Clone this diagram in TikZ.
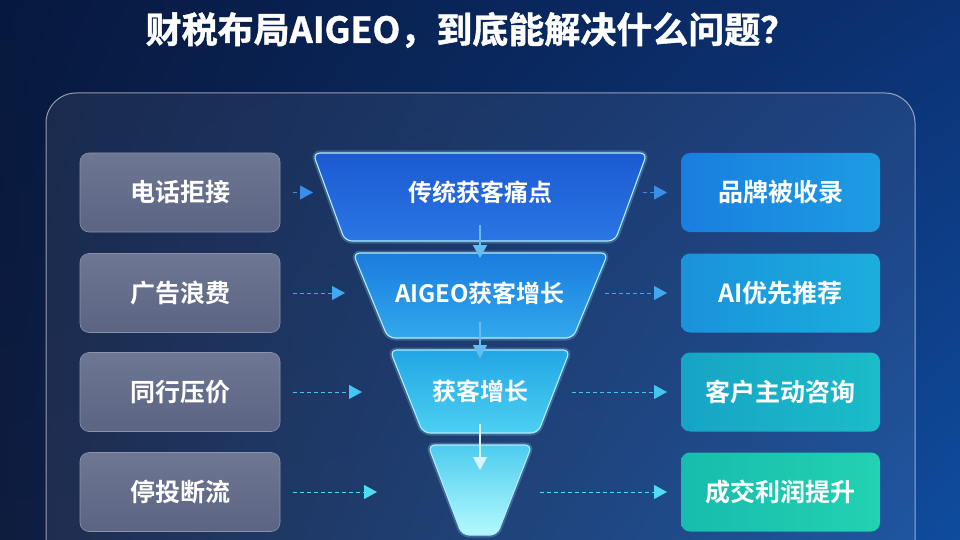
\documentclass[tikz,border=0pt]{standalone}
\usepackage{fontspec}
\setmainfont{Noto Sans CJK SC}[BoldFont={Noto Sans CJK SC Bold}]
\newfontfamily\titlefont{Noto Sans CJK SC Bold}[FakeBold=1.2]
\usetikzlibrary{arrows.meta,shadings}
\definecolor{bgTL}{HTML}{07183E}
\definecolor{bgTR}{HTML}{0C3274}
\definecolor{bgBL}{HTML}{0E1C3E}
\definecolor{bgBR}{HTML}{0F4C9E}
\definecolor{lboxT}{HTML}{6D7692}
\definecolor{lboxB}{HTML}{5B6583}
\definecolor{lboxD}{HTML}{8A93AD}
\definecolor{r1a}{HTML}{1A7EE0}\definecolor{r1b}{HTML}{1C9CE2}
\definecolor{r2a}{HTML}{1A92DC}\definecolor{r2b}{HTML}{1BAEDC}
\definecolor{r3a}{HTML}{17A4C6}\definecolor{r3b}{HTML}{1BBCC8}
\definecolor{r4a}{HTML}{17BCAE}\definecolor{r4b}{HTML}{22D2B0}
\definecolor{f1a}{HTML}{1C5AD2}\definecolor{f1b}{HTML}{2A76E4}
\definecolor{f2a}{HTML}{1A7CDE}\definecolor{f2b}{HTML}{32A8EC}
\definecolor{f3a}{HTML}{22A6E4}\definecolor{f3b}{HTML}{4CD0F2}
\definecolor{f4a}{HTML}{4CCCEE}\definecolor{f4b}{HTML}{B4FAFF}
\definecolor{glow}{HTML}{8FE4FF}
\definecolor{ar1}{HTML}{3A8EE8}
\definecolor{ar2}{HTML}{42A8F0}
\definecolor{ar3}{HTML}{44C6F0}
\definecolor{ar4}{HTML}{52DAF2}
\definecolor{varr}{HTML}{66BDF2}
\tikzset{
  lbox/.style={rounded corners=9pt, top color=lboxT, bottom color=lboxB, draw=lboxD, line width=0.6pt,
    minimum width=200pt, minimum height=79pt, text=white, font=\bfseries\fontsize{25}{28}\selectfont},
  rbox/.style={rounded corners=9pt, draw=none, minimum width=199pt, minimum height=79pt,
    text=white, font=\bfseries\fontsize{25}{28}\selectfont},
  ftext/.style={text=white, font=\bfseries\fontsize{24}{27}\selectfont},
  funnelglow/.style={draw=glow, draw opacity=0.25, line width=5pt, rounded corners=7pt},
  funnelline/.style={draw=glow!70!white, line width=1.1pt, rounded corners=7pt},
  harrow/.style={dashed, dash pattern=on 4pt off 3pt, line width=1pt, -{Triangle[length=13pt,width=14pt]}},
  varrow/.style={line width=1.4pt, draw=varr, -{Triangle[length=13pt,width=14pt]}},
}
\begin{document}
\begin{tikzpicture}[x=1pt,y=-1pt]
\useasboundingbox (0,0) rectangle (960,540);
\begin{scope}
\clip (0,0) rectangle (960,540);
% background
\shade[upper left=bgTL, upper right=bgTR, lower left=bgBL, lower right=bgBR] (0,0) rectangle (960,540);
% panel
\fill[white, fill opacity=0.07, rounded corners=30pt] (46,93) rectangle (915,580);
\draw[white, draw opacity=0.55, line width=1pt, rounded corners=30pt] (46,93) rectangle (915,580);
\end{scope}
% title
\node[text=white, font=\titlefont\fontsize{36}{40}\selectfont] (title) at (471,30) {财税布局AIGEO，到底能解决什么问题？};
% left boxes
\node[lbox] (l1) at (180,192.5) {电话拒接};
\node[lbox] (l2) at (180,293) {广告浪费};
\node[lbox] (l3) at (180,392) {同行压价};
\node[lbox] (l4) at (180,492) {停投断流};
% right boxes
\node[rbox, left color=r1a, right color=r1b] (r1) at (780.5,192.5) {品牌被收录};
\node[rbox, left color=r2a, right color=r2b] (r2) at (780.5,293) {AI优先推荐};
\node[rbox, left color=r3a, right color=r3b] (r3) at (780.5,392) {客户主动咨询};
\node[rbox, left color=r4a, right color=r4b] (r4) at (780.5,492) {成交利润提升};
% funnel
\path[funnelglow] (313,153) -- (647,153) -- (615,241) -- (345,241) -- cycle;
\shade[top color=f1a, bottom color=f1b, rounded corners=7pt] (313,153) -- (647,153) -- (615,241) -- (345,241) -- cycle;
\path[funnelline] (313,153) -- (647,153) -- (615,241) -- (345,241) -- cycle;
\path[funnelglow] (353,253) -- (608,253) -- (573,338) -- (388,338) -- cycle;
\shade[top color=f2a, bottom color=f2b, rounded corners=7pt] (353,253) -- (608,253) -- (573,338) -- (388,338) -- cycle;
\path[funnelline] (353,253) -- (608,253) -- (573,338) -- (388,338) -- cycle;
\path[funnelglow] (390,350) -- (570,350) -- (538,433) -- (423,433) -- cycle;
\shade[top color=f3a, bottom color=f3b, rounded corners=7pt] (390,350) -- (570,350) -- (538,433) -- (423,433) -- cycle;
\path[funnelline] (390,350) -- (570,350) -- (538,433) -- (423,433) -- cycle;
\path[funnelglow] (428,445) -- (532,445) -- (497,535) -- (462,535) -- cycle;
\shade[top color=f4a, bottom color=f4b, rounded corners=7pt] (428,445) -- (532,445) -- (497,535) -- (462,535) -- cycle;
\path[funnelline] (428,445) -- (532,445) -- (497,535) -- (462,535) -- cycle;
\node[ftext] (f1) at (480,192) {传统获客痛点};
\node[ftext] (f2) at (480,293) {AIGEO获客增长};
\node[ftext] (f3) at (480,391) {获客增长};
\coordinate (f4) at (480,490);
% vertical arrows
\coordinate (v1a) at (480,225); \coordinate (v1b) at (480,258);
\coordinate (v2a) at (480,322); \coordinate (v2b) at (480,358);
\coordinate (v3a) at (480,424); \coordinate (v3b) at (480,470);
\draw[varrow] (v1a) -- (v1b);
\draw[varrow] (v2a) -- (v2b);
\draw[varrow, draw=white!85!cyan] (v3a) -- (v3b);
% horizontal arrows
\coordinate (a1) at (313,192.5); \coordinate (b1) at (643,192.5); \coordinate (c1) at (667,192.5);
\coordinate (a2) at (345,293); \coordinate (b2) at (605,293); \coordinate (c2) at (667,293);
\coordinate (a3) at (362,392); \coordinate (b3) at (572,392); \coordinate (c3) at (667,392);
\coordinate (a4) at (377,492); \coordinate (b4) at (540,492); \coordinate (c4) at (667,492);
\draw[harrow, ar1, shorten <=13pt] (l1.east) -- (a1);
\draw[harrow, ar2, shorten <=13pt] (l2.east) -- (a2);
\draw[harrow, ar3, shorten <=13pt] (l3.east) -- (a3);
\draw[harrow, ar4, shorten <=13pt] (l4.east) -- (a4);
\draw[harrow, ar1] (b1) -- (c1);
\draw[harrow, ar2] (b2) -- (c2);
\draw[harrow, ar3] (b3) -- (c3);
\draw[harrow, ar4] (b4) -- (c4);
\end{tikzpicture}
\end{document}
